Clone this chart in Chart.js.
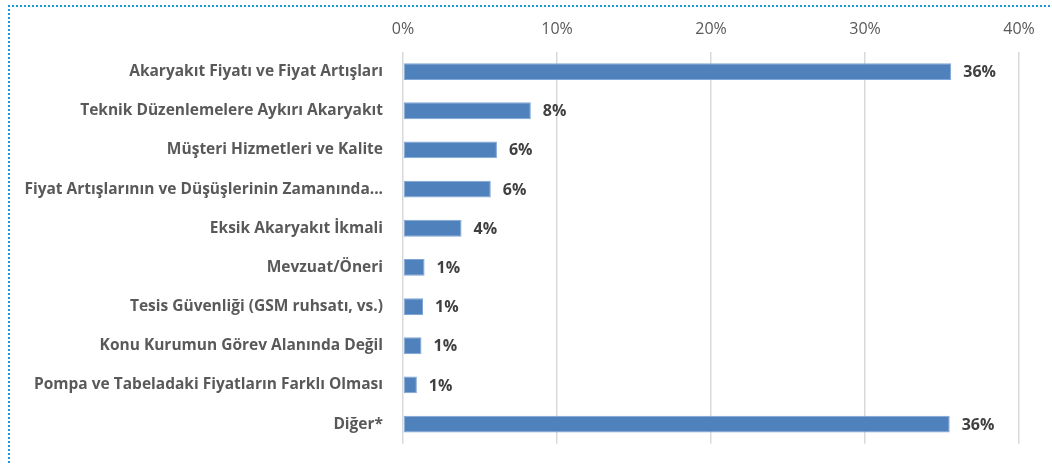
<!DOCTYPE html>
<html>
<head>
<meta charset="utf-8">
<script src="https://cdn.jsdelivr.net/npm/chart.js@4.4.0/dist/chart.umd.min.js"></script>
<style>
    html, body { margin: 0; padding: 0; background: #fff; overflow: hidden; }
    #frame {
        position: absolute; left: 8px; top: 5px; width: 1100px; height: 500px;
        border-top: 2px dotted #1a9ad9; border-left: 2px dotted #1a9ad9;
    }
    #wrap { position: absolute; left: 0; top: 0; width: 1052px; height: 465px; }
</style>
</head>
<body>
<div id="frame"></div>
<div id="wrap"><canvas id="chart"></canvas></div>
<script>
    'use strict';

    // categories, top to bottom
    let categories = [
        'Akaryakıt Fiyatı ve Fiyat Artışları',
        'Teknik Düzenlemelere Aykırı Akaryakıt',
        'Müşteri Hizmetleri ve Kalite',
        'Fiyat Artışlarının ve Düşüşlerinin Zamanında...',
        'Eksik Akaryakıt İkmali',
        'Mevzuat/Öneri',
        'Tesis Güvenliği (GSM ruhsatı, vs.)',
        'Konu Kurumun Görev Alanında Değil',
        'Pompa ve Tabeladaki Fiyatların Farklı Olması',
        'Diğer*'
    ];
    // shares in percent
    let shares = [35.6, 8.3, 6.1, 5.7, 3.8, 1.4, 1.3, 1.2, 0.9, 35.5];
    let tickValues = [0, 10, 20, 30, 40];

    let fontFamily = '"Open Sans", Lato, sans-serif';

    // simple value labels at bar ends
    let barLabels = {
        id: 'barLabels',
        afterDatasetsDraw: function(chart) {
            let ctx = chart.ctx;
            let meta = chart.getDatasetMeta(0);
            ctx.save();
            ctx.font = 'bold 16px ' + fontFamily;
            ctx.fillStyle = '#404040';
            ctx.textAlign = 'left';
            ctx.textBaseline = 'middle';
            meta.data.forEach(function(bar, i) {
                ctx.fillText(Math.round(shares[i]) + '%', bar.x + 12, bar.y + 1);
            });
            ctx.restore();
        }
    };

    let config = {
        type: 'bar',
        data: {
            labels: categories,
            datasets: [{
                data: shares,
                backgroundColor: '#4f81bd',
                borderColor: '#7fa6d6',
                borderWidth: 1,
                borderSkipped: false,
                barPercentage: 0.43,
                categoryPercentage: 1
            }]
        },
        options: {
            indexAxis: 'y',
            responsive: true,
            maintainAspectRatio: false,
            animation: false,
            layout: {
                padding: { left: 0, right: 33, top: 0, bottom: 19 }
            },
            plugins: {
                legend: { display: false },
                tooltip: { enabled: false }
            },
            scales: {
                x: {
                    position: 'top',
                    min: 0,
                    max: 40,
                    afterBuildTicks: function(axis) {
                        axis.ticks = tickValues.map(function(v) { return { value: v }; });
                    },
                    afterFit: function(axis) { axis.height = 52; },
                    border: { display: false },
                    grid: { color: '#d9d9d9', lineWidth: 1.5, drawTicks: false },
                    ticks: {
                        padding: 13,
                        color: '#595959',
                        font: { family: fontFamily, size: 16 },
                        callback: function(v) { return v + '%'; }
                    }
                },
                y: {
                    afterFit: function(axis) { axis.width = 403; },
                    border: { display: false },
                    grid: { display: false },
                    ticks: {
                        padding: 12,
                        color: '#595959',
                        font: { family: fontFamily, size: 15.5, weight: 'bold' }
                    }
                }
            }
        },
        plugins: [barLabels]
    };

    let chart = new Chart(document.getElementById('chart'), config);
</script>
</body>
</html>
